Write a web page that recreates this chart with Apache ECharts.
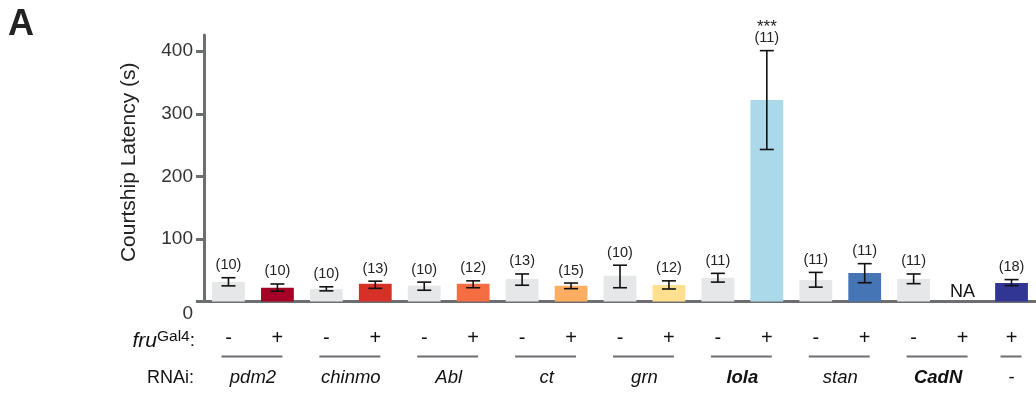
<!DOCTYPE html>
<html>
<head>
<meta charset="utf-8">
<script src="https://cdn.jsdelivr.net/npm/echarts@6/dist/echarts.min.js"></script>
<style>
  html, body { margin: 0; padding: 0; background: #ffffff; }
  #chart { width: 1036px; height: 397px; }
</style>
</head>
<body>
<div id="chart"></div>
<script>
// Courtship latency per genotype: fru-Gal4 (-/+) crossed with each RNAi line
const genes     = ['pdm2', 'pdm2', 'chinmo', 'chinmo', 'Abl', 'Abl', 'ct', 'ct', 'grn', 'grn', 'lola', 'lola', 'stan', 'stan', 'CadN', 'CadN', '-'];
const fruSigns  = ['-', '+', '-', '+', '-', '+', '-', '+', '-', '+', '-', '+', '-', '+', '-', '+', '+'];
const means     = [31, 22, 20, 28.5, 25, 28.5, 36, 25, 41, 26.5, 38, 322, 34.5, 45.5, 36, null, 29.5];
const errLow    = [25, 16.5, 17, 21, 18, 22, 26, 20.5, 22, 20, 31, 243, 23, 30, 28.5, null, 25.5];
const errHigh   = [38, 28, 23.5, 32.5, 31, 33, 44, 29.5, 58, 33, 45, 401, 46.5, 60.5, 44, null, 35];
const nCounts   = ['(10)', '(10)', '(10)', '(13)', '(10)', '(12)', '(13)', '(15)', '(10)', '(12)', '(11)', '(11)', '(11)', '(11)', '(11)', '', '(18)'];
const sigMarks  = ['', '', '', '', '', '', '', '', '', '', '', '***', '', '', '', '', ''];
const barColors = ['#e6e7e8', '#a50026', '#e6e7e8', '#d73027', '#e6e7e8', '#f46d43', '#e6e7e8', '#fdae61',
                   '#e6e7e8', '#fee090', '#e6e7e8', '#abd9e9', '#e6e7e8', '#4575b4', '#e6e7e8', '#e6e7e8', '#313695'];

// RNAi groups along the x axis (first and last category index of each group)
const groupNames = ['pdm2', 'chinmo', 'Abl', 'ct', 'grn', 'lola', 'stan', 'CadN', '-'];
const groupStart = [0, 2, 4, 6, 8, 10, 12, 14, 16];
const groupEnd   = [1, 3, 5, 7, 9, 11, 13, 15, 16];
const groupBold  = [false, false, false, false, false, true, false, true, false];

const yTicks = [0, 100, 200, 300, 400];

const categories = genes.map((g, i) => g + ' ' + fruSigns[i]);
const FONT = '"Liberation Sans", Arial, Helvetica, sans-serif';
const AXIS_GREY = '#6d6e71';

const chart = echarts.init(document.getElementById('chart'), null, { renderer: 'canvas' });

const barData = means.map((m, i) => (m == null ? null : { value: m, itemStyle: { color: barColors[i] } }));
const errData = means.map((m, i) => [i, errLow[i] == null ? 0 : errLow[i], errHigh[i] == null ? 0 : errHigh[i]]);
const groupData = groupNames.map((n, k) => [groupStart[k], groupEnd[k], k]);

function renderErr(params, api) {
  const i = api.value(0);
  const children = [];
  if (means[i] == null) {
    const base = api.coord([i, 0]);
    children.push({
      type: 'text',
      style: { text: 'NA', x: base[0], y: base[1] - 9, align: 'center', verticalAlign: 'middle',
               fontSize: 18, fontFamily: FONT, fill: '#111' }
    });
    return { type: 'group', children };
  }
  const top = api.coord([i, api.value(2)]);
  const bot = api.coord([i, api.value(1)]);
  const cap = 7;
  const lineStyle = { stroke: '#111', lineWidth: 1.6 };
  children.push({ type: 'line', shape: { x1: top[0], y1: top[1], x2: bot[0], y2: bot[1] }, style: lineStyle });
  children.push({ type: 'line', shape: { x1: top[0] - cap, y1: top[1], x2: top[0] + cap, y2: top[1] }, style: lineStyle });
  children.push({ type: 'line', shape: { x1: bot[0] - cap, y1: bot[1], x2: bot[0] + cap, y2: bot[1] }, style: lineStyle });
  children.push({
    type: 'text',
    style: { text: nCounts[i], x: top[0], y: top[1] - 12.5, align: 'center', verticalAlign: 'middle',
             fontSize: 14.5, fontFamily: FONT, fill: '#222' }
  });
  if (sigMarks[i]) {
    children.push({
      type: 'text',
      style: { text: sigMarks[i], x: top[0], y: top[1] - 23, align: 'center', verticalAlign: 'middle',
               fontSize: 17, fontFamily: FONT, fill: '#222' }
    });
  }
  return { type: 'group', children };
}

function renderGroup(params, api) {
  const k = api.value(2);
  const a = api.coord([api.value(0), 0]);
  const b = api.coord([api.value(1), 0]);
  const single = api.value(0) === api.value(1);
  const padL = single ? 11 : 7;
  const padR = single ? 10 : 5;
  const cx = (a[0] + b[0]) / 2;
  return {
    type: 'group',
    children: [
      { type: 'line', shape: { x1: a[0] - padL, y1: a[1] + 55, x2: b[0] + padR, y2: a[1] + 55 },
        style: { stroke: AXIS_GREY, lineWidth: 2 } },
      { type: 'text',
        style: { text: groupNames[k], x: cx, y: a[1] + 76.5, align: 'center', verticalAlign: 'middle',
                 fontSize: 18.5, fontStyle: groupNames[k] === '-' ? 'normal' : 'italic',
                 fontWeight: groupBold[k] ? 'bold' : 'normal', fontFamily: FONT, fill: '#111' } }
    ]
  };
}

chart.setOption({
  animation: false,
  backgroundColor: '#ffffff',
  grid: { left: 204, right: 0, top: 35, bottom: 95.5 },
  xAxis: {
    type: 'category',
    data: categories,
    axisLine: { lineStyle: { color: AXIS_GREY, width: 3 } },
    axisTick: { show: false },
    axisLabel: {
      margin: 27,
      interval: 0,
      formatter: (v, idx) => fruSigns[idx],
      fontSize: 20, fontFamily: FONT, color: '#111'
    }
  },
  yAxis: {
    type: 'value',
    min: 0,
    max: 426,
    name: 'Courtship Latency (s)',
    nameLocation: 'middle',
    nameGap: 64,
    nameTextStyle: { fontSize: 21, fontFamily: FONT, color: '#222', padding: [0, 0, 0, 12] },
    splitLine: { show: false },
    axisLine: { show: true, lineStyle: { color: AXIS_GREY, width: 3 } },
    axisTick: { show: true, length: 8, customValues: yTicks, lineStyle: { color: AXIS_GREY, width: 3 } },
    axisLabel: {
      customValues: yTicks,
      margin: 11,
      fontSize: 19, fontFamily: FONT, color: '#333',
      formatter: v => (v === 0 ? '{z|0}' : String(v)),
      rich: { z: { fontSize: 19, fontFamily: FONT, color: '#333', padding: [24, 0, 0, 0] } }
    }
  },
  graphic: [
    { type: 'text', x: 8, y: 7,
      style: { text: 'A', verticalAlign: 'top', fontSize: 36, fontWeight: 'bold', fontFamily: FONT, fill: '#222' } },
    { type: 'text', x: 195, y: 341,
      style: { text: '{i|fru}{s|Gal4}{n|:}', align: 'right', verticalAlign: 'middle',
               rich: {
                 i: { fontSize: 21, fontStyle: 'italic', fontFamily: FONT, fill: '#111', lineHeight: 24 },
                 s: { fontSize: 15.5, fontFamily: FONT, fill: '#111', verticalAlign: 'top', lineHeight: 17 },
                 n: { fontSize: 19, fontFamily: FONT, fill: '#111', lineHeight: 24 }
               } } },
    { type: 'text', x: 194, y: 378.5,
      style: { text: 'RNAi:', align: 'right', verticalAlign: 'middle', fontSize: 18, fontFamily: FONT, fill: '#111' } }
  ],
  series: [
    {
      type: 'bar',
      data: barData,
      barWidth: '67%',
      silent: true
    },
    {
      type: 'custom',
      data: errData,
      renderItem: renderErr,
      encode: { x: 0, y: [1, 2] },
      clip: false,
      silent: true,
      z: 5
    },
    {
      type: 'custom',
      data: groupData,
      renderItem: renderGroup,
      encode: { x: [0, 1], y: 2 },
      clip: false,
      silent: true
    }
  ]
});
</script>
</body>
</html>
